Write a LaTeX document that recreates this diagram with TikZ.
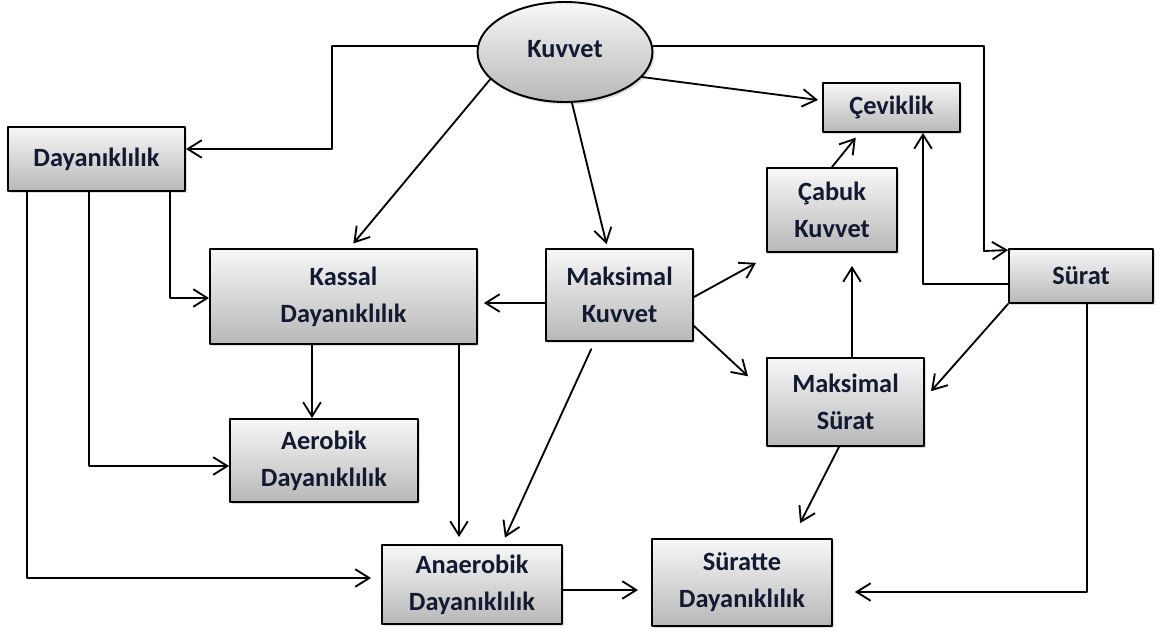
\documentclass[tikz,border=0pt]{standalone}
\usepackage{fontspec}
\setmainfont{Carlito}
\usetikzlibrary{shapes.geometric,shadows,calc,arrows.meta}
\definecolor{yazi}{RGB}{18,26,50}
\tikzset{
  kutu/.style={draw=black,line width=1.1pt,top color=black!3,bottom color=black!28,
    drop shadow={shadow xshift=1.2pt,shadow yshift=-1.4pt,opacity=0.25},
    align=center,inner sep=0pt,text=yazi,font=\fontsize{15}{21}\selectfont\bfseries},
  elips/.style={kutu,ellipse},
  ok/.style={->,line width=1.05pt},
}
\begin{document}
\begin{tikzpicture}[x=0.02cm,y=-0.02cm,>={Straight Barb[length=8pt,width=10pt]},line join=round,line cap=round]
\useasboundingbox (0,0) rectangle (1166,633);
% kutular
\node[elips,minimum width=3.5cm,minimum height=2cm] (kuvvet) at (565,52) {\raisebox{4pt}{Kuvvet}};
\node[kutu,minimum width=3.54cm,minimum height=1.28cm] (day) at (96.5,159) {Dayanıklılık};
\node[kutu,minimum width=5.34cm,minimum height=1.9cm] (kassal) at (343.5,296.5) {Kassal\\Dayanıklılık};
\node[kutu,minimum width=2.94cm,minimum height=1.84cm] (maxkuv) at (619.5,295) {Maksimal\\Kuvvet};
\node[kutu,minimum width=2.74cm,minimum height=0.98cm] (cev) at (891.5,107.5) {Çeviklik};
\node[kutu,minimum width=2.6cm,minimum height=1.68cm] (cabuk) at (832,210) {Çabuk\\Kuvvet};
\node[kutu,minimum width=2.88cm,minimum height=1.08cm] (surat) at (1081,276) {Sürat};
\node[kutu,minimum width=3.14cm,minimum height=1.76cm] (maxsur) at (845.5,402) {Maksimal\\Sürat};
\node[kutu,minimum width=3.76cm,minimum height=1.66cm] (aerobik) at (324,460.5) {Aerobik\\Dayanıklılık};
\node[kutu,minimum width=3.6cm,minimum height=1.58cm] (anaerobik) at (472,584.5) {Anaerobik\\Dayanıklılık};
\node[kutu,minimum width=3.6cm,minimum height=1.74cm] (suratte) at (742,582.5) {Süratte\\Dayanıklılık};
% Kuvvet'ten cikan oklar
\draw[ok] ($(kuvvet.west)+(0,-6)$) -| (332,149) -- ($(day.east)+(0,-10)$);
\draw[ok,shorten >=3.4pt] (kuvvet.200) -- ($(kassal.north)+(6,0)$);
\draw[ok,shorten >=2.3pt] ($(kuvvet.south)+(7,0)$) -- ($(maxkuv.north)+(-12,0)$);
\draw[ok,shorten >=2.3pt] (kuvvet.-18) -- ($(cev.west)+(0,-7)$);
\draw[ok] ($(kuvvet.east)+(0,-6)$) -| (984,251) -- ($(surat.north west)+(0,2)$);
% Dayaniklilik
\draw[ok] ($(day.south)+(73.5,0)$) |- ($(kassal.west)+(0,1.5)$);
\draw[ok] ($(day.south)+(-7.5,0)$) |- ($(aerobik.west)+(0,5.5)$);
\draw[ok,shorten >=5.7pt] ($(day.south)+(-69.5,0)$) |- ($(anaerobik.west)+(0,-6.5)$);
% Kassal ve Maksimal Kuvvet
\draw[ok,shorten >=3.4pt] ($(maxkuv.west)+(0,8)$) -- ($(kassal.east)+(0,6.5)$);
\draw[ok] ($(kassal.south)+(-31.5,0)$) -- ($(aerobik.north)+(-12,0)$);
\draw[ok,shorten >=4pt] ($(kassal.south)+(115.5,0)$) -- ($(anaerobik.north)+(-13,0)$);
\draw[ok,shorten >=4pt,shorten <=4.5pt] ($(maxkuv.south)+(-25,0)$) -- ($(anaerobik.north)+(30,0)$);
\draw[ok,shorten >=11.7pt] ($(maxkuv.east)+(0,2)$) -- ($(cabuk.south west)+(8,0)$);
\draw[ok,shorten >=14pt] ($(maxkuv.east)+(0,31)$) -- ($(maxsur.west)+(0,-9)$);
% Surat tarafi
\draw[ok,shorten >=3.4pt] (cabuk.north) -- ($(cev.south)+(-32,0)$);
\draw[ok] ($(surat.west)+(0,8)$) -| ($(cev.south)+(31.5,0)$);
\draw[ok,shorten >=7.4pt] ($(maxsur.north)+(6.5,0)$) -- ($(cabuk.south)+(20,0)$);
\draw[ok,shorten >=5.2pt] (surat.south west) -- ($(maxsur.east)+(0,-4)$);
\draw[ok,shorten >=9.5pt] ($(maxsur.south)+(-6.5,0)$) -- ($(suratte.north)+(50.5,0)$);
\draw[ok,shorten >=12.5pt] ($(surat.south)+(6,0)$) |- ($(suratte.east)+(0,9.5)$);
\draw[ok,shorten >=7.4pt] ($(anaerobik.east)+(0,5.5)$) -- ($(suratte.west)+(0,7.5)$);
\end{tikzpicture}
\end{document}
